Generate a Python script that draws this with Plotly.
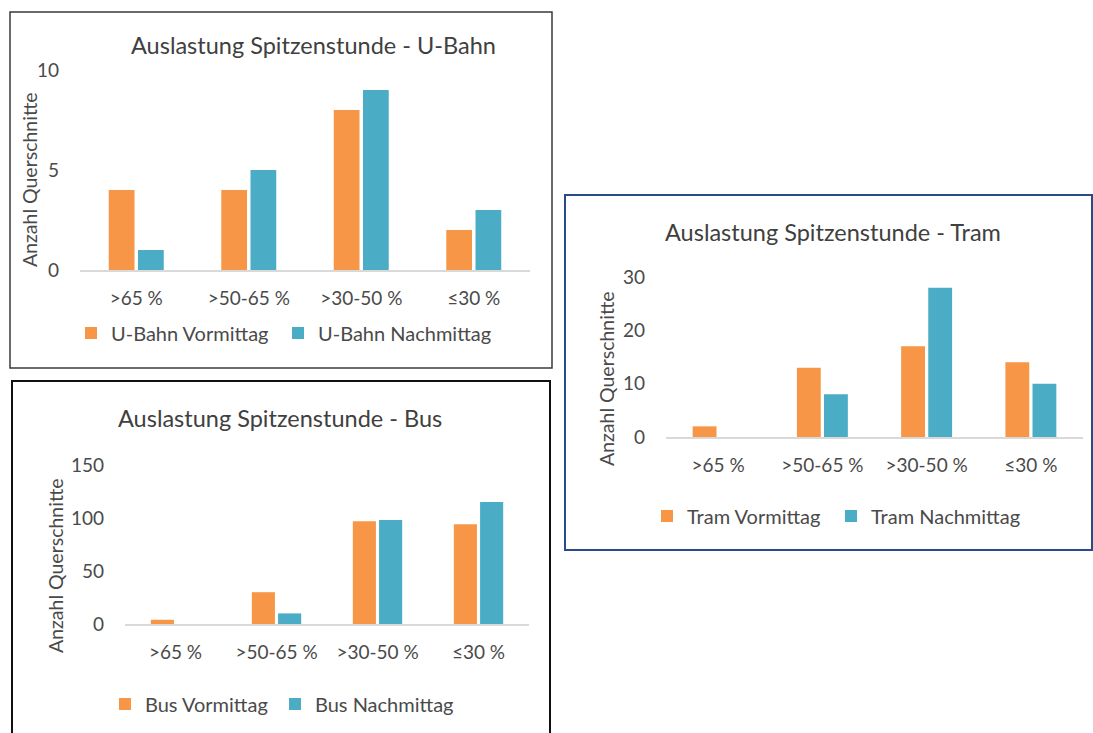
import plotly.graph_objects as go

W, H = 1093, 733

categories = [">65 %", ">50-65 %", ">30-50 %", "≤30 %"]

ubahn_vormittag = [4, 4, 8, 2]
ubahn_nachmittag = [1, 5, 9, 3]

bus_vormittag = [4, 30, 97, 94]
bus_nachmittag = [0, 10, 98, 115]

tram_vormittag = [2, 13, 17, 14]
tram_nachmittag = [0, 8, 28, 10]

ORANGE = "#F79646"
BLUE = "#4BACC6"
TXT = "#404040"
TICK = "#4A4A4A"
FONT = "Lato"


def px(x):
    return x / W


def py(y):
    return 1 - y / H


fig = go.Figure()

panels = [
    dict(sfx="", v=ubahn_vormittag, n=ubahn_nachmittag,
         names=("U-Bahn Vormittag", "U-Bahn Nachmittag"),
         x0=80, x1=530, yt=70, yb=270, yr=10, yticks=[0, 5, 10],
         leg=((71, 333), (278, 333)), title="Auslastung Spitzenstunde - U-Bahn",
         tpos=(313, 45), ytit=(30, 180)),
    dict(sfx="2", v=bus_vormittag, n=bus_nachmittag,
         names=("Bus Vormittag", "Bus Nachmittag"),
         x0=125, x1=529, yt=465, yb=624, yr=150, yticks=[0, 50, 100, 150],
         leg=((105, 704), (275, 704)), title="Auslastung Spitzenstunde - Bus",
         tpos=(280, 418), ytit=(55, 566)),
    dict(sfx="3", v=tram_vormittag, n=tram_nachmittag,
         names=("Tram Vormittag", "Tram Nachmittag"),
         x0=666, x1=1083, yt=277, yb=437, yr=30, yticks=[0, 10, 20, 30],
         leg=((647, 516), (831, 516)), title="Auslastung Spitzenstunde - Tram",
         tpos=(833, 232), ytit=(606, 379)),
]

layout_updates = {}
annotations = []
leg_idx = 0
for p in panels:
    s = p["sfx"]
    xa = "x" + s
    ya = "y" + s
    for k, (vals, col) in enumerate(((p["v"], ORANGE), (p["n"], BLUE))):
        leg_idx += 1
        lg = "legend" if leg_idx == 1 else "legend%d" % leg_idx
        fig.add_trace(go.Bar(x=categories, y=vals, name=p["names"][k],
                             marker=dict(color=col, line=dict(width=0)),
                             xaxis=xa, yaxis=ya, legend=lg))
        layout_updates[lg] = dict(
            x=px(p["leg"][k][0]), y=py(p["leg"][k][1]),
            xanchor="left", yanchor="middle",
            orientation="h", font=dict(family=FONT, size=20, color=TICK),
            bgcolor="rgba(0,0,0,0)", itemclick=False, itemdoubleclick=False,
        )
    layout_updates["xaxis" + s] = dict(
        domain=[px(p["x0"]), px(p["x1"])], anchor=ya,
        showline=True, linecolor="#D9D9D9", linewidth=1.5,
        showgrid=False, zeroline=False, ticks="",
        tickfont=dict(family=FONT, size=19, color=TICK),
        ticklabelstandoff=10, fixedrange=True,
    )
    layout_updates["yaxis" + s] = dict(
        domain=[py(p["yb"]), py(p["yt"])], anchor=xa,
        range=[0, p["yr"]], tickvals=p["yticks"],
        showline=False, showgrid=False, zeroline=False, ticks="",
        tickfont=dict(family=FONT, size=19, color=TICK),
        ticklabelstandoff=20, fixedrange=True,
    )
    annotations.append(dict(
        text=p["title"], x=px(p["tpos"][0]), y=py(p["tpos"][1]),
        xref="paper", yref="paper", showarrow=False,
        xanchor="center", yanchor="middle",
        font=dict(family=FONT, size=23.5, color=TXT),
    ))
    annotations.append(dict(
        text="Anzahl Querschnitte", x=px(p["ytit"][0]), y=py(p["ytit"][1]),
        xref="paper", yref="paper", showarrow=False, textangle=-90,
        xanchor="center", yanchor="middle",
        font=dict(family=FONT, size=19.5, color=TICK),
    ))

shapes = [
    dict(type="rect", xref="paper", yref="paper",
         x0=px(10), x1=px(552), y0=py(368), y1=py(12),
         line=dict(color="#3A3A3A", width=1.5)),
    dict(type="rect", xref="paper", yref="paper",
         x0=px(12), x1=px(550), y0=py(745), y1=py(381),
         line=dict(color="#111111", width=2)),
    dict(type="rect", xref="paper", yref="paper",
         x0=px(565), x1=px(1092), y0=py(550), y1=py(195),
         line=dict(color="#2B4A8B", width=2)),
]

fig.update_layout(
    width=W, height=H,
    margin=dict(l=0, r=0, t=0, b=0, autoexpand=False),
    paper_bgcolor="white", plot_bgcolor="white",
    barmode="group", bargap=0.48, bargroupgap=0.12,
    font=dict(family=FONT, color=TICK),
    annotations=annotations, shapes=shapes,
    showlegend=True,
    **layout_updates,
)

fig.write_html("out.html")
